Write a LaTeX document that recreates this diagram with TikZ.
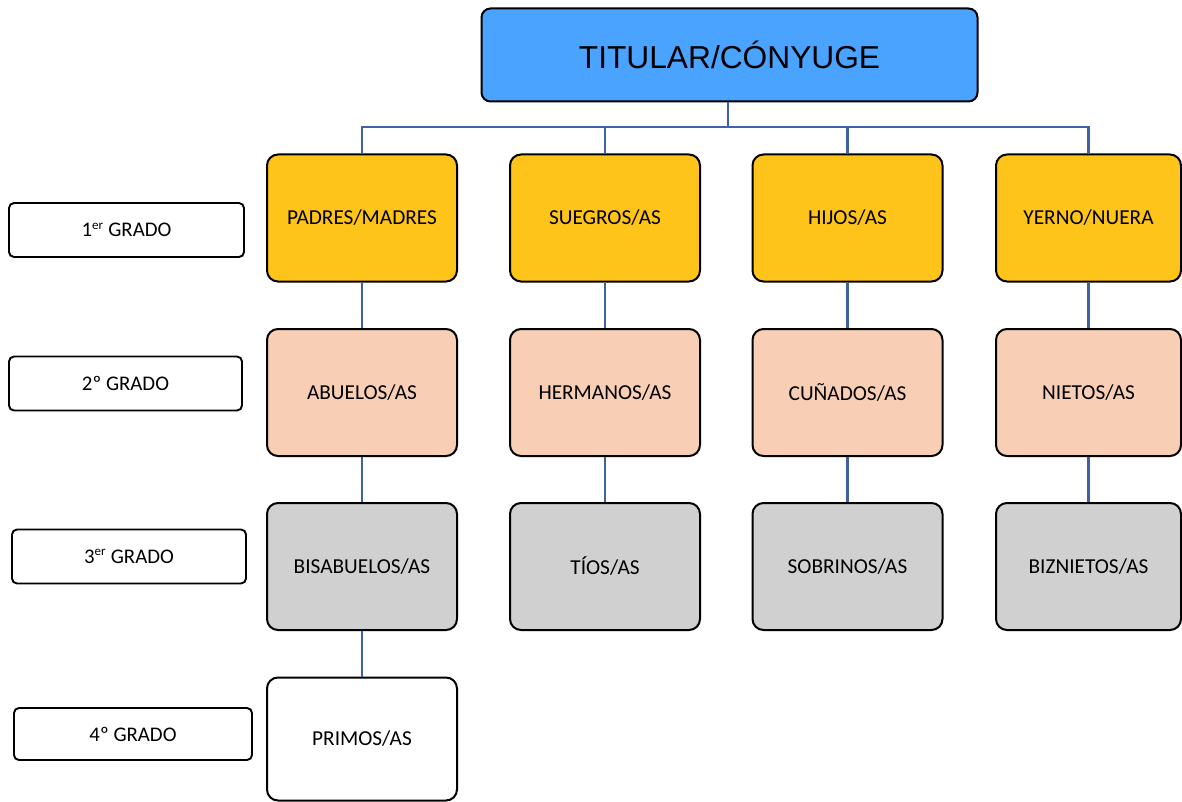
\documentclass[tikz,border=0pt]{standalone}
\usepackage{fontspec}
\setmainfont{Carlito}
\newfontfamily\arialf{Liberation Sans}
\definecolor{topblue}{RGB}{74,163,255}
\definecolor{gold}{RGB}{254,196,26}
\definecolor{peach}{RGB}{248,207,181}
\definecolor{greybox}{RGB}{208,208,208}
\definecolor{conn}{RGB}{62,98,168}
\begin{document}
\begin{tikzpicture}[x=1pt,y=-1pt,
  base/.style={draw=black, line width=2pt, rounded corners=11pt, minimum width=190pt, minimum height=127pt, inner sep=0pt, font=\fontsize{21.3}{25}\selectfont},
  lev1/.style={base, fill=gold},
  lev2/.style={base, fill=peach},
  lev3/.style={base, fill=greybox},
  lev4/.style={base, fill=white},
  gradebox/.style={draw=black, line width=1.9pt, rounded corners=5pt, fill=white, minimum width=234pt, minimum height=54pt, inner sep=0pt, font=\fontsize{20.8}{24}\selectfont},
  topbox/.style={draw=black, line width=2pt, rounded corners=9pt, fill=topblue, minimum width=496pt, minimum height=93pt, inner sep=0pt, font=\arialf\fontsize{31.7}{36}\selectfont},
  link/.style={draw=conn, line width=2.2pt}
]
\useasboundingbox (0,0) rectangle (1182,802);
\node[topbox] (top) at (729.5,55) {TITULAR/CÓNYUGE};

\node[lev1] (pm) at (362,218) {PADRES/MADRES};
\node[lev1] (sg) at (605,218) {SUEGROS/AS};
\node[lev1] (hj) at (847.5,218) {HIJOS/AS};
\node[lev1, minimum width=185pt] (yn) at (1088.5,218) {YERNO/NUERA};

\node[lev2] (ab) at (362,392.5) {ABUELOS/AS};
\node[lev2] (hm) at (605,392.5) {HERMANOS/AS};
\node[lev2] (cn) at (847.5,392.5) {CUÑADOS/AS};
\node[lev2, minimum width=185pt] (nt) at (1088.5,392.5) {NIETOS/AS};

\node[lev3] (bb) at (362,566.5) {BISABUELOS/AS};
\node[lev3] (ti) at (605,566.5) {TÍOS/AS};
\node[lev3] (sb) at (847.5,566.5) {SOBRINOS/AS};
\node[lev3, minimum width=185pt] (bn) at (1088.5,566.5) {BIZNIETOS/AS};

\node[lev4, minimum height=123pt] (pr) at (362,739) {PRIMOS/AS};

\node[gradebox, minimum width=235pt] (g1) at (126.5,230) {1\textsuperscript{\fontsize{13}{14}\selectfont er} GRADO};
\node[gradebox, minimum width=233pt] (g2) at (125.5,383.5) {2º GRADO};
\node[gradebox] (g3) at (129,556.5) {3\textsuperscript{\fontsize{13}{14}\selectfont er} GRADO};
\node[gradebox, minimum width=238pt, minimum height=52pt] (g4) at (133,734) {4º GRADO};

\coordinate (bus) at (728,127);
\draw[link] (top.south -| bus) -- (bus);
\draw[link] (pm.north) -- (pm.north |- bus) -- (yn.north |- bus) -- (yn.north);
\draw[link] (sg.north) -- (sg.north |- bus);
\draw[link] (hj.north) -- (hj.north |- bus);

\draw[link] (pm) -- (ab);
\draw[link] (sg) -- (hm);
\draw[link] (hj) -- (cn);
\draw[link] (yn) -- (nt);
\draw[link] (ab) -- (bb);
\draw[link] (hm) -- (ti);
\draw[link] (cn) -- (sb);
\draw[link] (nt) -- (bn);
\draw[link] (bb) -- (pr);
\end{tikzpicture}
\end{document}
